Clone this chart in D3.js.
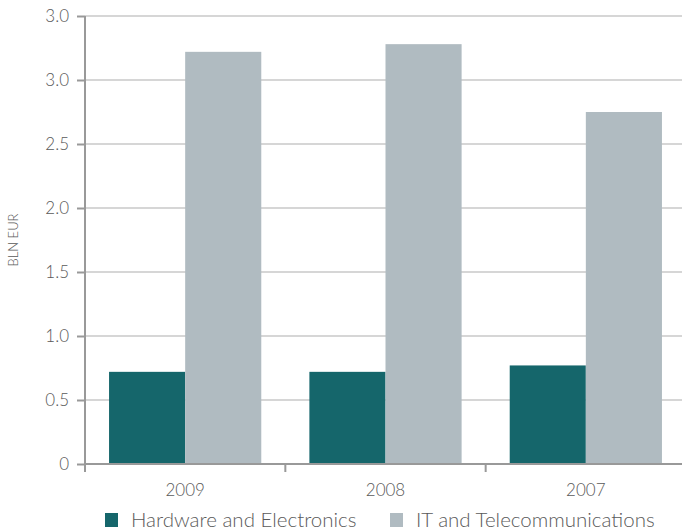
<!DOCTYPE html>
<html>
<head>
<meta charset="utf-8">
<script src="https://cdn.jsdelivr.net/npm/d3@7"></script>
<style>
  body { margin: 0; background: #fff; }
  text { font-family: Lato, "Open Sans", sans-serif; font-weight: 300; fill: #5a5a5a; }
</style>
</head>
<body>
<div id="chart"></div>
<script>
const years = ["2009", "2008", "2007"];
const series = ["Hardware and Electronics", "IT and Telecommunications"];
const hardware = [0.72, 0.72, 0.77];
const itTelecom = [3.22, 3.28, 2.75];
const tickValues = [0, 0.5, 1.0, 1.5, 2.0, 2.5, 3.0, 3.5];
const tickLabels = ["0", "0.5", "1.0", "1.5", "2.0", "2.5", "3.0", "3.0"];
const colors = ["#15666b", "#b0bbc1"];

const width = 682, height = 531;
const margin = {top: 16, right: -4, bottom: 67, left: 85};

const svg = d3.select("#chart").append("svg")
    .attr("width", width)
    .attr("height", height);

const x = d3.scaleBand()
    .domain(years)
    .range([margin.left, width - margin.right])
    .paddingInner(0)
    .paddingOuter(0);

const xInner = d3.scaleBand()
    .domain(series)
    .range([0, x.bandwidth()])
    .paddingOuter(0.316)
    .paddingInner(0);

const y = d3.scaleLinear()
    .domain([0, 3.5])
    .range([height - margin.bottom, margin.top]);

// grid lines
svg.append("g")
    .selectAll("line")
    .data(tickValues.slice(1))
    .enter().append("line")
    .attr("x1", margin.left)
    .attr("x2", width)
    .attr("y1", d => y(d))
    .attr("y2", d => y(d))
    .attr("stroke", "#c8c8c8")
    .attr("stroke-width", 1.5);

const rows = years.map((yr, i) => ({year: yr, values: [hardware[i], itTelecom[i]]}));

svg.append("g")
    .selectAll("g")
    .data(rows)
    .enter().append("g")
    .attr("transform", d => `translate(${x(d.year)},0)`)
    .selectAll("rect")
    .data(d => d.values.map((v, j) => ({key: series[j], value: v, j: j})))
    .enter().append("rect")
    .attr("x", d => xInner(d.key))
    .attr("width", xInner.bandwidth())
    .attr("y", d => y(d.value))
    .attr("height", d => y(0) - y(d.value))
    .attr("fill", d => colors[d.j]);

// y axis
const yAxis = svg.append("g")
    .attr("transform", `translate(${margin.left},0)`)
    .call(d3.axisLeft(y).tickValues(tickValues)
        .tickFormat((d, i) => tickLabels[i]).tickSize(8).tickPadding(8));
yAxis.select(".domain").remove();
yAxis.selectAll(".tick line").attr("stroke", "#999").attr("stroke-width", 2);
yAxis.selectAll(".tick text").style("font-size", "17px").attr("fill", "#5a5a5a");
svg.append("line")
    .attr("x1", margin.left).attr("x2", margin.left)
    .attr("y1", y(3.5)).attr("y2", y(0) + 8)
    .attr("stroke", "#999").attr("stroke-width", 2);

// x axis
svg.append("line")
    .attr("x1", margin.left).attr("x2", width)
    .attr("y1", y(0)).attr("y2", y(0))
    .attr("stroke", "#999").attr("stroke-width", 2);
svg.append("g")
    .selectAll("line")
    .data(years.slice(1))
    .enter().append("line")
    .attr("x1", d => x(d)).attr("x2", d => x(d))
    .attr("y1", y(0)).attr("y2", y(0) + 8)
    .attr("stroke", "#999").attr("stroke-width", 2);
svg.append("g")
    .selectAll("text")
    .data(years)
    .enter().append("text")
    .attr("x", d => x(d) + x.bandwidth() / 2)
    .attr("y", y(0) + 32)
    .attr("text-anchor", "middle")
    .style("font-size", "17px")
    .text(d => d);

// y label
svg.append("text")
    .attr("transform", `translate(18,${(y(0) + y(3.5)) / 2}) rotate(-90)`)
    .attr("text-anchor", "middle")
    .style("font-size", "13px")
    .text("BLN EUR");

// legend
const legendX = [105, 390];
const legend = svg.append("g")
    .selectAll("g")
    .data(series)
    .enter().append("g")
    .attr("transform", (d, i) => `translate(${legendX[i]},513)`);
legend.append("rect")
    .attr("width", 13).attr("height", 14)
    .attr("fill", (d, i) => colors[i]);
legend.append("text")
    .attr("x", 26).attr("y", 14)
    .style("font-size", "20.5px")
    .text(d => d);
</script>
</body>
</html>
